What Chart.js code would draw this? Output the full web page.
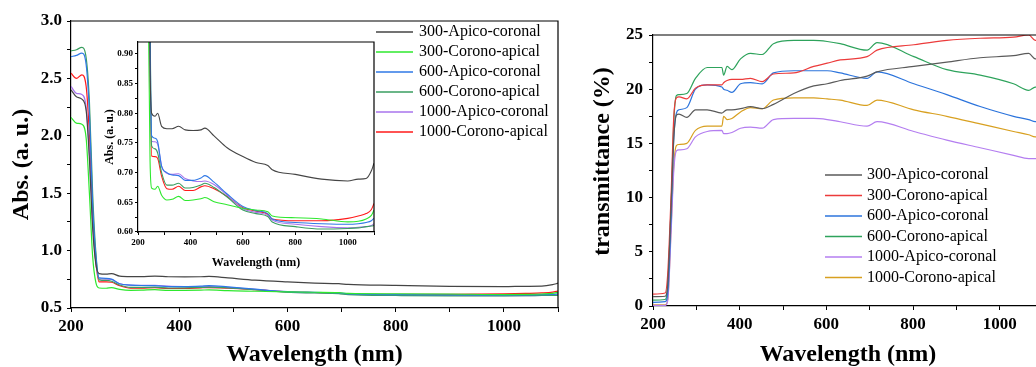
<!DOCTYPE html>
<html><head><meta charset="utf-8">
<script src="https://cdn.jsdelivr.net/npm/chart.js@4.4.0/dist/chart.umd.min.js"></script>
<style>
html,body{margin:0;padding:0;background:#fff;overflow:hidden;width:1036px;height:367px;position:relative;}
.box{position:absolute;}
canvas{display:block;}
</style></head><body>
<div class="box" style="left:0;top:0;width:575px;height:367px"><canvas id="absMain" width="575" height="367"></canvas></div>
<div class="box" style="left:100px;top:30px;width:290px;height:239px"><canvas id="absInset" width="290" height="239"></canvas></div>
<div class="box" style="left:580px;top:0;width:480px;height:367px"><canvas id="trans" width="480" height="367"></canvas></div>
<script>
// ---------- DATA ----------
const seriesNames = ['300-Apico-coronal','300-Corono-apical','600-Apico-coronal','600-Corono-apical','1000-Apico-coronal','1000-Corono-apical'];

// Absorbance (left panel + inset)
const absWavelengths = [200,210,220,228,234,240,246,252,265,275,290,310,330,355,380,410,440,455,490,540,600,650,695,712,800,900,1000,1040,1070,1090,1100];
const abs300Apico  = [2.40,2.34,2.32,2.22,1.80,1.20,0.88,0.80,0.795,0.80,0.778,0.774,0.774,0.778,0.772,0.771,0.772,0.775,0.762,0.742,0.727,0.717,0.712,0.705,0.697,0.689,0.686,0.689,0.690,0.703,0.716];
const abs300Corono = [2.16,2.11,2.10,1.98,1.50,0.95,0.72,0.674,0.672,0.677,0.662,0.654,0.655,0.660,0.653,0.654,0.656,0.658,0.651,0.646,0.640,0.637,0.634,0.627,0.624,0.622,0.617,0.618,0.622,0.628,0.637];
const abs600Apico  = [2.69,2.70,2.72,2.62,2.20,1.40,0.95,0.762,0.758,0.752,0.711,0.700,0.696,0.695,0.687,0.687,0.691,0.695,0.684,0.664,0.643,0.636,0.631,0.622,0.616,0.614,0.613,0.614,0.616,0.619,0.623];
const abs600Corono = [2.74,2.75,2.77,2.68,2.30,1.50,0.98,0.745,0.740,0.733,0.700,0.679,0.679,0.682,0.674,0.675,0.679,0.682,0.675,0.659,0.637,0.631,0.626,0.617,0.609,0.605,0.606,0.607,0.609,0.610,0.611];
const abs1000Apico = [2.43,2.37,2.36,2.25,1.85,1.25,0.90,0.753,0.752,0.748,0.711,0.699,0.697,0.698,0.690,0.686,0.685,0.686,0.680,0.662,0.639,0.633,0.628,0.620,0.613,0.609,0.607,0.608,0.609,0.611,0.614];
const abs1000Corono= [2.545,2.50,2.53,2.43,2.00,1.30,0.90,0.728,0.727,0.724,0.694,0.673,0.672,0.677,0.670,0.670,0.676,0.678,0.673,0.660,0.641,0.635,0.630,0.622,0.619,0.619,0.623,0.627,0.631,0.638,0.648];

// Transmittance (right panel)
const transWavelengths = [200,228,234,242,248,254,260,278,298,325,359,363,371,382,402,425,452,478,525,571,602,632,694,717,802,878,955,1032,1067,1082,1100];
const trans300Apico  = [0.86,0.9,2.0,9.5,15.5,17.6,17.7,17.4,18.1,18.1,17.8,17.9,18.1,18.1,18.2,18.4,18.2,18.6,19.6,20.3,20.5,20.8,21.2,21.6,22.1,22.5,22.9,23.1,23.3,22.8,22.8];
const trans300Corono = [1.1,1.2,3.0,10.5,17.5,19.2,19.3,19.1,20.1,20.4,20.4,20.6,20.8,20.9,20.9,21.0,20.7,21.4,21.5,22.1,22.4,22.7,23.0,23.6,24.1,24.5,24.7,24.8,25.0,24.5,24.6];
const trans600Apico  = [0.34,0.4,1.2,8.5,15.5,17.8,18.1,18.3,20.0,20.4,20.2,20.0,19.9,19.7,20.5,20.6,20.5,21.5,21.7,21.7,21.7,21.5,21.0,21.6,20.5,19.5,18.4,17.5,17.2,17.0,17.0];
const trans600Corono = [0.55,0.6,1.8,9.5,17.0,19.4,19.5,19.6,21.0,22.0,22.0,21.3,22.1,21.8,22.8,23.3,23.2,24.2,24.5,24.5,24.4,24.2,23.6,24.3,23.0,21.8,21.3,20.5,19.9,20.2,20.2];
const trans1000Apico = [0.05,0.05,0.5,7.0,12.5,14.3,14.4,14.5,15.6,16.1,16.2,15.9,15.9,16.0,16.4,16.5,16.4,17.2,17.3,17.3,17.2,17.0,16.6,17.0,16.1,15.3,14.6,13.9,13.6,13.6,13.6];
const trans1000Corono= [0.1,0.1,0.6,7.5,13.0,14.8,14.9,15.0,16.2,16.6,16.6,17.5,17.2,17.3,17.9,18.3,18.2,19.0,19.2,19.2,19.1,19.0,18.5,19.0,18.1,17.5,16.8,16.1,15.8,15.6,15.6];

const absColors   = ['#454545','#2ee82e','#2f78e6','#3a9e60','#a874ec','#ff1a1a'];
const transColors = ['#5a5a5a','#ec3b3b','#2c74dc','#2ea35c','#b47ef0','#d8a020'];

// ---------- HELPERS ----------
const SERIF = "'Liberation Serif','Times New Roman',serif";
function pts(xs, ys){ return xs.map((x,i)=>({x:x, y:ys[i]})); }
function makeSets(xs, list, colors, w){
  return list.map((ys,i)=>({label:seriesNames[i], data:pts(xs,ys), borderColor:colors[i], backgroundColor:colors[i],
    borderWidth:w, pointRadius:0, fill:false, cubicInterpolationMode:'monotone'}));
}
const frame = {id:'frame', afterDatasetsDraw(chart, args, o){
  const c=chart.ctx, a=chart.chartArea; c.save(); c.strokeStyle='#000'; c.lineWidth=o.width||1.2;
  c.beginPath(); c.moveTo(a.left,a.top); c.lineTo(a.right,a.top); c.lineTo(a.right,a.bottom); c.stroke(); c.restore();
}};
const lineLegend = {id:'lineLegend', afterDraw(chart, args, o){
  if(!o || !o.show) return;
  const c=chart.ctx; c.save(); c.font=o.font; c.textBaseline='middle'; c.textAlign='left';
  chart.data.datasets.forEach((d,i)=>{
    const y=o.y+i*o.dy;
    c.strokeStyle=d.borderColor; c.lineWidth=o.lineWidth; c.beginPath(); c.moveTo(o.x,y); c.lineTo(o.x+o.len,y); c.stroke();
    c.fillStyle='#000'; c.fillText(d.label, o.x+o.len+o.gap, y);
  });
  c.restore();
}};
function near(v, step){ return Math.abs(v/step - Math.round(v/step)) < 1e-6; }
function axisX(o){
  return {type:'linear', position:'bottom', min:200, max:1100,
    ticks:{stepSize:100, autoSkip:false, maxRotation:0, padding:o.pad, color:'#000', includeBounds:false,
      font:{family:SERIF, weight:'bold', size:o.tick}, callback:v=> near(v,200)? String(v):''},
    grid:{display:true, drawOnChartArea:false, drawTicks:true, tickLength:o.tl, tickColor:'#000', tickWidth:1},
    border:{display:true, color:'#000', width:1.2},
    title:{display:true, text:'Wavelength (nm)', color:'#000', padding:0, font:{family:SERIF, weight:'bold', size:o.title, lineHeight:1}},
    afterFit:s=>{ s.height=o.h; }};
}
function axisY(o){
  return {type:'linear', position:'left', min:o.min, max:o.max,
    ticks:{stepSize:o.step, autoSkip:false, padding:o.pad, color:'#000', includeBounds:false,
      font:{family:SERIF, weight:'bold', size:o.tick}, callback:v=> near(v,o.label)? v.toFixed(o.dec):''},
    grid:{display:true, drawOnChartArea:false, drawTicks:true, tickLength:o.tl, tickColor:'#000', tickWidth:1},
    border:{display:true, color:'#000', width:1.2},
    title:{display:true, text:o.text, color:'#000', padding:0, font:{family:SERIF, weight:'bold', size:o.title, lineHeight:1}},
    afterFit:s=>{ s.width=o.w; }};
}
const absLists = [abs300Apico,abs300Corono,abs600Apico,abs600Corono,abs1000Apico,abs1000Corono];
const transLists = [trans300Apico,trans300Corono,trans600Apico,trans600Corono,trans1000Apico,trans1000Corono];
const common = {responsive:false, animation:false, events:[]};

// ---------- LEFT MAIN ----------
new Chart(document.getElementById('absMain'), {
  type:'line',
  data:{datasets:makeSets(absWavelengths, absLists, absColors, 1.2)},
  plugins:[frame, lineLegend],
  options:Object.assign({}, common, {
    layout:{padding:{left:10, top:21, right:17, bottom:0}},
    scales:{
      x:axisX({pad:4, tick:17, tl:4, title:24, h:59}),
      y:axisY({min:0.5, max:3.0, step:0.25, label:0.5, dec:1, pad:5, tick:17, tl:4, title:24, w:61, text:'Abs. (a. u.)'})
    },
    plugins:{legend:{display:false}, tooltip:{enabled:false},
      frame:{width:1.2},
      lineLegend:{show:true, x:376, y:32, dy:20, len:37, gap:6, lineWidth:1.5, font:"16px "+SERIF}}
  })
});

// ---------- INSET ----------
new Chart(document.getElementById('absInset'), {
  type:'line',
  data:{datasets:makeSets(absWavelengths, absLists, absColors, 1.1)},
  plugins:[frame],
  options:Object.assign({}, common, {
    layout:{padding:{left:4, top:12, right:16, bottom:0}},
    scales:{
      x:axisX({pad:2, tick:9, tl:3, title:12, h:37}),
      y:axisY({min:0.60, max:0.92, step:0.025, label:0.05, dec:2, pad:2, tick:9, tl:3, title:12, w:34, text:'Abs. (a. u.)'})
    },
    plugins:{legend:{display:false}, tooltip:{enabled:false}, frame:{width:1.2}}
  })
});

// ---------- RIGHT ----------
new Chart(document.getElementById('trans'), {
  type:'line',
  data:{datasets:makeSets(transWavelengths, transLists, transColors, 1.2)},
  plugins:[frame, lineLegend],
  options:Object.assign({}, common, {
    layout:{padding:{left:11, top:35, right:17, bottom:0}},
    scales:{
      x:axisX({pad:4, tick:17, tl:4, title:24, h:61}),
      y:axisY({min:0, max:25, step:2.5, label:5, dec:0, pad:6, tick:17, tl:4, title:24, w:62, text:'\u00a0\u00a0\u00a0transmittance (%)'})
    },
    plugins:{legend:{display:false}, tooltip:{enabled:false},
      frame:{width:1.2},
      lineLegend:{show:true, x:245, y:175, dy:20.5, len:37, gap:5, lineWidth:1.5, font:"16px "+SERIF}}
  })
});
</script>
</body></html>
